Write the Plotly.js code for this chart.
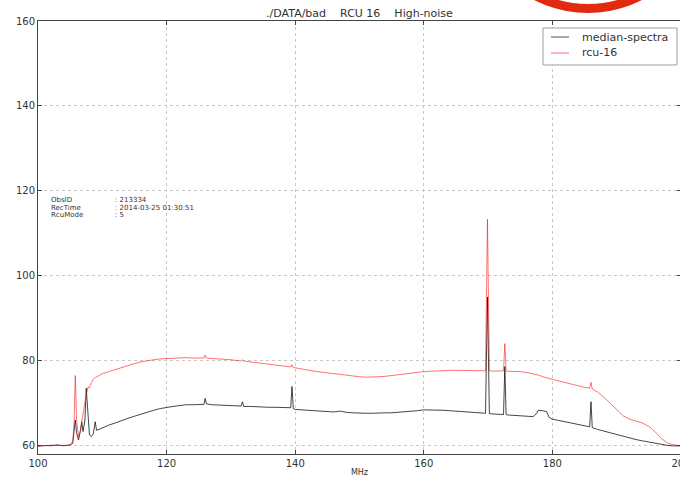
<!DOCTYPE html>
<html>
<head>
<meta charset="utf-8">
<script src="https://cdn.plot.ly/plotly-3.0.1.min.js"></script>
<style>
  html, body { margin: 0; padding: 0; overflow: hidden; background: #fff; width: 680px; height: 477px; }
  #chart { position: absolute; left: 0; top: 0; }
  #ring { position: absolute; left: 470px; top: -223px; width: 236px; height: 236px; box-sizing: border-box;
          border: 9px solid #e22a10; border-radius: 50%; }
</style>
</head>
<body>
<div id="chart"></div>
<div id="ring"></div>
<script>
const freq = [100, 101, 102, 103, 104, 105, 105.4, 105.6, 105.8, 106.0, 106.3, 106.6, 106.8, 107.0, 107.3, 107.5, 107.8, 108.0, 108.3, 108.6, 108.9, 109.1, 109.5,
  110, 111, 112, 113, 114, 115, 116, 117, 118, 119, 120, 121, 122, 123, 124, 125, 125.8, 126.0, 126.2, 127, 128, 129, 130, 131, 131.6, 131.8, 132.0,
  133, 134, 135, 136, 137, 138, 139, 139.3, 139.5, 139.7, 140, 141, 142, 143, 144, 145, 146, 147, 148, 149, 150, 151, 152, 153, 154, 155, 156, 157, 158, 159,
  160, 161, 162, 163, 164, 165, 166, 167, 168, 169, 169.6, 169.9, 170.2, 171, 172, 172.4, 172.6, 172.8, 173, 174, 175, 176, 177, 177.5, 177.8, 178.5, 179.1, 179.5,
  180, 181, 182, 183, 184, 185, 185.8, 186.0, 186.2, 187, 188, 189, 190, 191, 192, 193, 194, 195, 196, 197, 198, 199, 200];

const rcu16 = [59.8, 60.0, 59.9, 60.1, 59.9, 60.2, 61.0, 65.0, 76.5, 66.0, 62.0, 63.5, 65.5, 67.5, 70.0, 72.0, 73.8, 73.6, 74.8, 75.6, 76.0, 76.2, 76.5,
  76.9, 77.4, 77.9, 78.4, 78.9, 79.3, 79.7, 80.0, 80.2, 80.4, 80.5, 80.6, 80.6, 80.7, 80.6, 80.6, 80.6, 81.3, 80.6, 80.5, 80.4, 80.4, 80.2, 80.0, 79.9, 80.2, 79.9,
  79.7, 79.5, 79.3, 79.1, 78.9, 78.7, 78.5, 78.5, 79.0, 78.4, 78.3, 78.0, 77.8, 77.5, 77.3, 77.1, 76.9, 76.7, 76.5, 76.3, 76.2, 76.1, 76.1, 76.2, 76.3, 76.5, 76.7, 76.9, 77.1, 77.3,
  77.4, 77.5, 77.6, 77.6, 77.7, 77.7, 77.7, 77.7, 77.6, 77.6, 77.6, 113.3, 77.6, 77.5, 77.5, 77.6, 84.0, 77.6, 77.5, 77.5, 77.4, 77.2, 76.9, 76.7, 76.6, 76.2, 75.9, 75.8,
  75.6, 75.2, 74.8, 74.4, 74.1, 73.7, 73.5, 74.9, 73.3, 72.6, 71.4, 69.9, 68.3, 67.0, 66.2, 65.8, 65.3, 64.5, 63.2, 61.6, 60.5, 60.1, 60.0];

const median = [59.9, 60.0, 60.0, 60.1, 60.0, 60.1, 60.5, 63.0, 66.0, 63.0, 61.3, 63.5, 65.6, 63.3, 66.0, 73.5, 67.0, 62.5, 62.1, 62.8, 65.6, 63.6, 63.8,
  64.2, 64.8, 65.3, 65.9, 66.4, 66.9, 67.4, 67.9, 68.3, 68.7, 69.0, 69.2, 69.4, 69.6, 69.6, 69.7, 69.7, 71.1, 69.8, 69.6, 69.5, 69.4, 69.3, 69.3, 69.3, 70.3, 69.2,
  69.2, 69.1, 69.1, 69.0, 69.0, 68.9, 68.9, 68.9, 73.9, 68.7, 68.5, 68.4, 68.3, 68.2, 68.1, 68.0, 67.9, 68.1, 67.8, 67.7, 67.6, 67.6, 67.6, 67.7, 67.7, 67.7, 67.8, 67.9, 68.0, 68.2,
  68.4, 68.4, 68.4, 68.3, 68.2, 68.1, 68.0, 67.9, 67.8, 67.7, 67.6, 95.0, 67.5, 67.4, 67.3, 67.3, 78.6, 67.3, 67.2, 67.1, 67.0, 66.9, 66.8, 67.5, 68.3, 68.2, 68.0, 66.6,
  66.2, 65.9, 65.6, 65.3, 65.0, 64.6, 64.4, 70.3, 64.2, 63.8, 63.4, 63.0, 62.6, 62.1, 61.7, 61.4, 61.1, 60.8, 60.5, 60.2, 60.0, 59.9, 59.9];

const seriesNames = ['median-spectra', 'rcu-16'];
const xTicks = [100, 120, 140, 160, 180, 200];
const yTicks = [60, 80, 100, 120, 140, 160];
const infoLabels = ['ObsID', 'RecTime', 'RcuMode'];
const infoValues = [': 213334', ': 2014-03-25 01:30:51', ': 5'];
const sp = '\u00a0\u00a0\u00a0\u00a0';
const titleText = './DATA/bad' + sp + 'RCU 16' + sp + 'High-noise';

const font = 'DejaVu Sans, sans-serif';
const lineColors = ['rgba(0,0,0,0.72)', 'rgba(255,0,0,0.55)'];
const legendColors = ['#8a8a8a', '#ff9c9c'];

const traces = seriesNames.map((nm, i) => ({
  x: freq, y: i === 0 ? median : rcu16, name: nm, type: 'scatter', mode: 'lines',
  line: { color: lineColors[i], width: 1 }
}));

const annotations = [];
const shapes = [];
infoLabels.forEach((lab, i) => {
  const yy = 0.5866 - i * 0.0178;
  annotations.push({ xref: 'paper', yref: 'paper', x: 0.0171, y: yy, xanchor: 'left', yanchor: 'middle',
    text: lab, showarrow: false, font: { family: font, size: 7, color: '#333' } });
  annotations.push({ xref: 'paper', yref: 'paper', x: 0.1164, y: yy, xanchor: 'left', yanchor: 'middle',
    text: infoValues[i], showarrow: false, font: { family: font, size: 7, color: '#333' } });
});

// legend box (drawn as shapes + text to match the compact matplotlib legend)
shapes.push({ type: 'rect', xref: 'paper', yref: 'paper', x0: 0.7854, x1: 0.9938, y0: 0.8984, y1: 0.9838,
  line: { color: '#a0a0a0', width: 1 }, fillcolor: '#fff', layer: 'above' });
const legY = [0.9630, 0.9261];
seriesNames.forEach((nm, i) => {
  shapes.push({ type: 'line', xref: 'paper', yref: 'paper', x0: 0.7978, x1: 0.8258, y0: legY[i], y1: legY[i],
    line: { color: legendColors[i], width: 1.5 }, layer: 'above' });
  annotations.push({ xref: 'paper', yref: 'paper', x: 0.8430, y: legY[i], xanchor: 'left', yanchor: 'middle',
    text: nm, showarrow: false, font: { family: font, size: 11, color: '#333' } });
});

const axisCommon = {
  showline: true, linecolor: '#444', linewidth: 1, mirror: 'ticks',
  ticks: 'inside', ticklen: 4, tickcolor: '#444',
  showgrid: true, gridcolor: '#c8c8c8', griddash: 'dot', gridwidth: 1,
  zeroline: false, tickfont: { family: font, size: 10, color: '#333' }, ticklabeloverflow: 'allow'
};

const layout = {
  width: 684, height: 477,
  margin: { l: 38, r: 3, t: 21, b: 23 },
  paper_bgcolor: '#fff', plot_bgcolor: '#fff',
  font: { family: font, color: '#333' },
  title: { text: titleText, x: 0.5, xref: 'paper', y: 0.973, yref: 'container', yanchor: 'middle',
           font: { family: font, size: 11, color: '#333' } },
  xaxis: Object.assign({}, axisCommon, { range: [100, 200], tickmode: 'array', tickvals: xTicks,
           title: { text: 'MHz', font: { family: font, size: 8, color: '#333' }, standoff: 9 } }),
  yaxis: Object.assign({}, axisCommon, { range: [58, 160], tickmode: 'array', tickvals: yTicks }),
  showlegend: false,
  annotations: annotations,
  shapes: shapes
};

Plotly.newPlot('chart', traces, layout, { displayModeBar: false, staticPlot: true });
</script>
</body>
</html>
